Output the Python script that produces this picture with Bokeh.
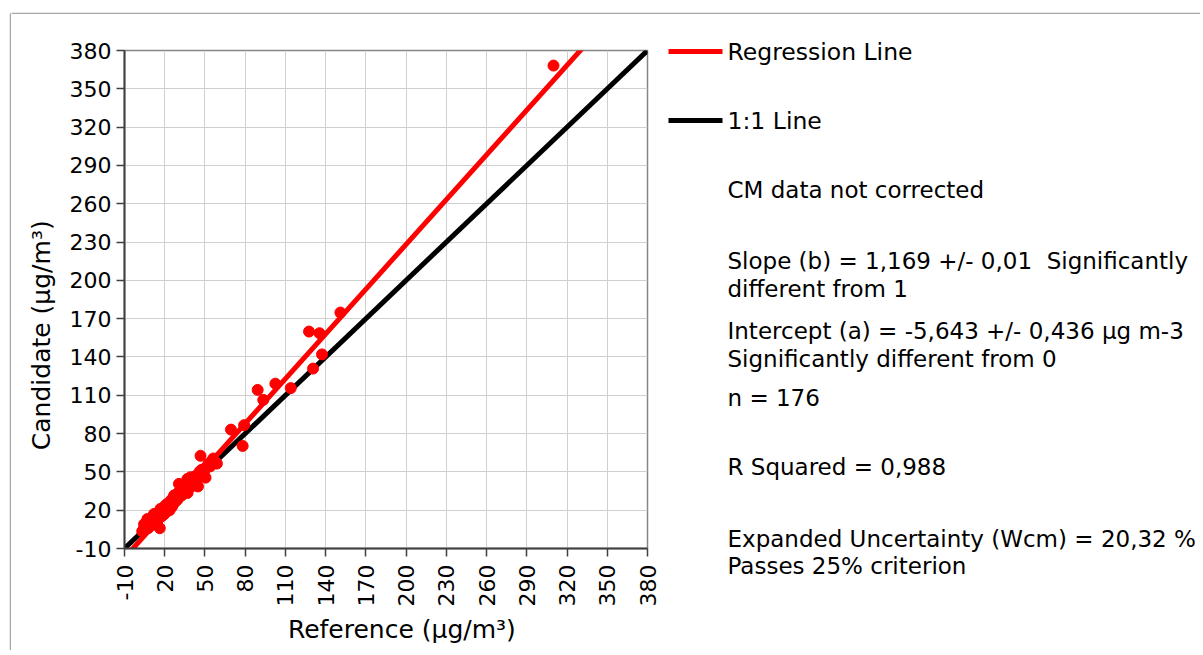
import math
from bokeh.plotting import figure
from bokeh.layouts import row, column
from bokeh.models import Range1d, FixedTicker
from bokeh.core.properties import value
from bokeh.embed import file_html
from bokeh.resources import INLINE

# ---------------- data ----------------
reference = [
    3.2, 4.4, 4.6, 5.5, 6.2, 6.9, 7.1, 7.6, 8.2, 8.8, 9.4, 9.9, 10.3, 10.8, 11.3,
    11.7, 12.0, 12.4, 12.8, 13.2, 13.7, 14.1, 14.5, 15.0, 15.4, 15.7, 16.1, 16.3,
    16.8, 17.3, 17.7, 18.1, 18.5, 19.0, 19.4, 19.8, 20.2,
    20.6, 21.1, 21.5, 21.9, 22.3, 22.8, 23.2, 23.6, 24.1, 24.4, 24.6, 25.0, 25.4,
    25.8, 26.2, 26.7, 27.0, 27.4, 27.9, 28.4, 28.9, 29.3, 29.8, 30.3, 30.6, 31.3,
    31.8, 32.3, 32.7, 33.1, 33.6, 34.1, 34.6, 35.1, 35.7, 36.2, 36.9, 37.0, 37.4,
    37.9, 38.5, 39.2, 39.3, 39.9,
    40.6, 41.2, 41.8, 42.4, 43.0, 43.7, 44.3, 44.8, 45.4, 46.1, 46.7, 46.7, 47.6,
    48.4, 49.2, 50.4, 51.3, 52.6, 53.9, 55.4, 56.3, 57.6, 58.9,
    69.4, 79.2, 78.1, 89.3, 93.5, 102.5, 114.0, 127.6, 135.4, 137.3, 130.6, 151.0,
    309.9,
]
candidate = [
    3.5, 5.4, 9.0, 6.2, 7.4, 10.6, 13.1, 5.9, 9.1, 7.3, 10.4, 12.6, 8.5, 11.2, 9.8,
    15.6, 17.0, 11.0, 13.0, 14.7, 11.8, 14.0, 16.2, 12.7, 15.3, 18.4, 14.2, 5.9,
    21.0, 16.4, 19.0, 15.5, 17.8, 20.3, 22.4, 17.0, 19.7,
    23.8, 18.9, 21.6, 25.0, 20.5, 23.0, 24.7, 19.9, 23.2, 26.4, 27.7, 25.3, 22.7,
    28.0, 24.5, 30.3, 31.6, 26.8, 29.5, 27.2, 32.0, 32.9, 28.7, 31.0, 40.6, 35.2,
    33.1, 36.5, 31.6, 35.5, 37.3, 34.2, 36.9, 39.7, 35.4, 38.3, 44.5, 33.5, 40.2,
    42.8, 39.1, 45.8, 38.1, 43.4,
    41.3, 45.0, 45.9, 43.6, 39.4, 47.2, 45.1, 38.6, 48.6, 50.3, 47.3, 62.6, 51.7,
    49.5, 50.0, 45.5, 54.0, 56.2, 54.3, 58.9, 60.5, 57.8, 56.5,
    83.1, 86.6, 70.3, 114.2, 106.4, 119.1, 115.6, 159.9, 158.6, 142.0, 130.9, 174.8,
    368.2,
]
tick_values = list(range(-10, 381, 30))
tick_labels = [str(v) for v in tick_values]
reg_slope = 1.169
reg_intercept = -5.643
line_x = [-10, 380]

x_title = "Reference (\u00b5g/m\u00b3)"
y_title = "Candidate (\u00b5g/m\u00b3)"
legend_labels = ["Regression Line", "1:1 Line"]
stats_lines = [
    "CM data not corrected",
    "Slope (b) = 1,169 +/- 0,01 \u00a0Significantly",
    "different from 1",
    "Intercept (a) = -5,643 +/- 0,436 \u00b5g m-3",
    "Significantly different from 0",
    "n = 176",
    "R Squared = 0,988",
    "Expanded Uncertainty (Wcm) = 20,32 %",
    "Passes 25% criterion",
]

# ---------------- layout (window pixels) ----------------
TOTAL_W, TOTAL_H = 1200, 650
BX, BY = 10, 13            # outer border position
SW, SH = 11, 14            # strip sizes
FL, FR, FT, FB = 124, 647, 50, 548   # plot frame edges
SPLIT = 660                # where the text panel starts
FONT = "DejaVu Sans"
NB = "\u00a0"


def no_align(f):
    if "frame_align" in f.properties():
        f.frame_align = False


def blank(w, h, xr, yr):
    f = figure(width=w, height=h, x_range=xr, y_range=yr,
               output_backend="svg", toolbar_location=None,
               min_border=0, min_border_left=0, min_border_right=0,
               min_border_top=0, min_border_bottom=0)
    f.axis.visible = False
    f.grid.visible = False
    f.outline_line_color = None
    f.background_fill_color = "white"
    f.border_fill_color = "white"
    no_align(f)
    return f


# left strip with vertical border line
left_strip = blank(SW, TOTAL_H, Range1d(0, SW), Range1d(TOTAL_H, 0))
left_strip.line([BX, BX], [BY, TOTAL_H], line_color="#a6a6a6", line_width=1.5)
left_strip.line([BX, SW], [BY, BY], line_color="#a6a6a6", line_width=1.5)

# top strip with horizontal border line
top_strip = blank(TOTAL_W - SW, SH, Range1d(SW, TOTAL_W), Range1d(SH, 0))
top_strip.line([SW, TOTAL_W], [BY, BY], line_color="#a6a6a6", line_width=1.5)

# main plot
PW = SPLIT - SW
PH = TOTAL_H - SH
p = figure(
    width=PW, height=PH,
    x_range=Range1d(-10, 380), y_range=Range1d(-10, 380),
    output_backend="svg", toolbar_location=None,
    min_border_left=FL - SW, min_border_right=PW - (FR - SW),
    min_border_top=FT - SH, min_border_bottom=PH - (FB - SH),
    background_fill_color="white", border_fill_color="white",
)
no_align(p)
p.xaxis.ticker = FixedTicker(ticks=tick_values)
p.yaxis.ticker = FixedTicker(ticks=tick_values)
overrides = dict(zip(tick_values, tick_labels))
p.xaxis.major_label_overrides = overrides
p.yaxis.major_label_overrides = overrides
p.xaxis.major_label_orientation = math.pi / 2
for ax in (p.xaxis, p.yaxis):
    ax.major_tick_out = 8
    ax.major_tick_in = 0
    ax.minor_tick_out = 0
    ax.minor_tick_in = 0
    ax.axis_line_color = "#404040"
    ax.axis_line_width = 2
    ax.major_tick_line_color = "#404040"
    ax.major_tick_line_width = 1.5
    ax.major_label_text_font = FONT
    ax.major_label_text_font_size = "22px"
    ax.major_label_text_color = "black"
    ax.axis_label_text_font = FONT
    ax.axis_label_text_font_size = "25px"
    ax.axis_label_text_font_style = "normal"
    ax.axis_label_text_color = "black"
p.xaxis.major_label_standoff = 8
p.yaxis.major_label_standoff = 5
# the titles sit off-centre in the original; pad with no-break spaces
p.xaxis.axis_label = NB * 4 + x_title
p.yaxis.axis_label = y_title + NB * 9
p.xaxis.axis_label_standoff = 6
p.yaxis.axis_label_standoff = 11
p.grid.grid_line_color = "#d0d0d0"
p.grid.grid_line_width = 1
p.outline_line_color = "#868686"
p.outline_line_width = 1.5

p.line(line_x, line_x, line_color="black", line_width=5)
p.line(line_x, [reg_slope * v + reg_intercept for v in line_x],
       line_color="#ff0000", line_width=5)
p.scatter(reference, candidate, size=11, fill_color="#ff0000",
          line_color="#ff0000")

# text panel (coordinates in window pixels)
t = blank(TOTAL_W - SPLIT, PH, Range1d(SPLIT, TOTAL_W), Range1d(TOTAL_H, SH))
legend_colors = ["#ff0000", "black"]
legend_y = [51, 120]
for lab, col, ly in zip(legend_labels, legend_colors, legend_y):
    t.line([668, 722], [ly, ly], line_color=col, line_width=5)
    t.text(x=[727], y=[ly], text=[lab], text_baseline="middle", text_align="left",
           text_font=value(FONT), text_font_size="23.5px", text_color="black")

stats_y = [189, 260, 288, 330, 358, 397, 466, 538, 565]
t.text(x=[727] * len(stats_lines), y=stats_y, text=stats_lines,
       text_baseline="middle", text_align="left", text_font=value(FONT),
       text_font_size="23px", text_color="black")

layout = row(left_strip, column(top_strip, row(p, column(t))))
open("out.html", "w").write(file_html(layout, INLINE))
